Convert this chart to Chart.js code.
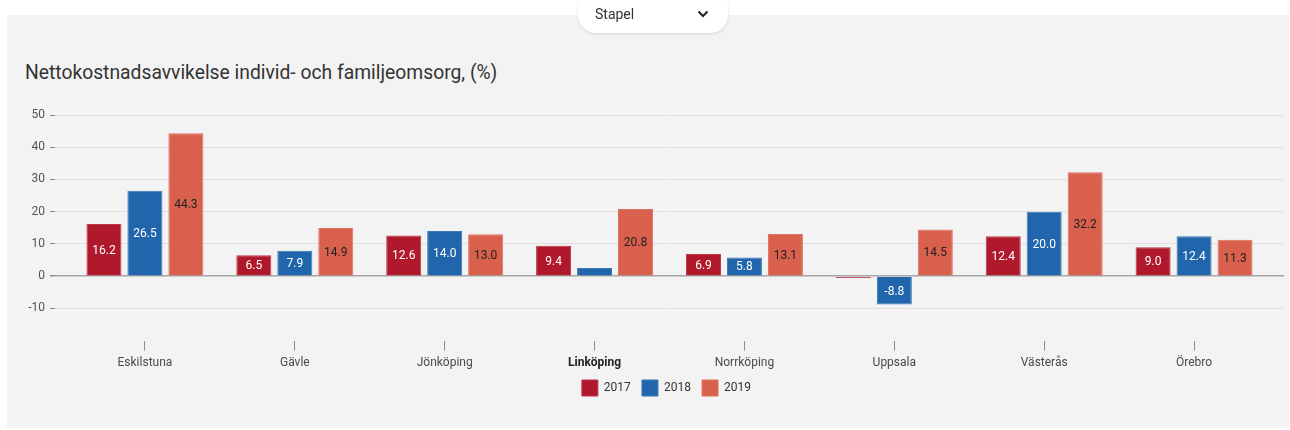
<!DOCTYPE html>
<html lang="sv">
<head>
<meta charset="utf-8">
<title>Nettokostnadsavvikelse</title>
<script src="https://cdn.jsdelivr.net/npm/chart.js@4/dist/chart.umd.min.js"></script>
<style>
  html, body { margin: 0; padding: 0; background: #fff; width: 1290px; height: 430px; overflow: hidden; font-family: Roboto, sans-serif; }
  .panel { position: absolute; left: 7px; top: 15px; width: 1282px; height: 413px; background: #f3f3f3; }
  .title { position: absolute; left: 25px; top: 60px; font-size: 19.3px; line-height: 26px; color: #333; }
  .select { position: absolute; left: 578px; top: -12px; width: 150px; height: 45px; background: #fff; border-radius: 18px;
            box-shadow: 0 1px 3px rgba(0,0,0,0.12); z-index: 3; }
  .select span { position: absolute; left: 17px; top: 18px; font-size: 14px; color: #333; }
  .select svg { position: absolute; left: 119px; top: 22px; }
  canvas { position: absolute; left: 0; top: 0; z-index: 2; }
</style>
</head>
<body>
<div class="panel"></div>
<div class="select"><span>Stapel</span>
  <svg width="12" height="8" viewBox="0 0 12 8"><polyline points="1.5,1.5 6,6 10.5,1.5" fill="none" stroke="#222" stroke-width="2"/></svg>
</div>
<div class="title">Nettokostnadsavvikelse individ- och familjeomsorg, (%)</div>
<canvas id="chart" width="1290" height="430"></canvas>
<script>
// Data
const categories = ['Eskilstuna', 'Gävle', 'Jönköping', 'Linköping', 'Norrköping', 'Uppsala', 'Västerås', 'Örebro'];
const years = ['2017', '2018', '2019'];
const values2017 = [16.2, 6.5, 12.6, 9.4, 6.9, -0.6, 12.4, 9.0];
const values2018 = [26.5, 7.9, 14.0, 2.5, 5.8, -8.8, 20.0, 12.4];
const values2019 = [44.3, 14.9, 13.0, 20.8, 13.1, 14.5, 32.2, 11.3];
const yTicks = [-20, -10, 0, 10, 20, 30, 40, 50];
const selected = 'Linköping';

const colors = ['#b0192c', '#2166ac', '#d9604c'];
const borders = ['#bb3646', '#3a78b6', '#df7260'];
const labelColors = ['#fff', '#fff', '#222'];

const selectedIndex = categories.indexOf(selected);
const series = [values2017, values2018, values2019];

// bar value labels, drawn in the middle of each bar
const barLabels = {
    id: 'barLabels',
    afterDatasetsDraw(chart) {
        const ctx = chart.ctx;
        ctx.save();
        ctx.font = '12px Roboto';
        ctx.textAlign = 'center';
        ctx.textBaseline = 'middle';
        chart.data.datasets.forEach((ds, di) => {
            const meta = chart.getDatasetMeta(di);
            meta.data.forEach((bar, i) => {
                const { x, y, base } = bar.getProps(['x', 'y', 'base'], true);
                if (Math.abs(base - y) < 16) return; // too small for a label
                ctx.fillStyle = labelColors[di];
                ctx.fillText(series[di][i].toFixed(1), x, (y + base) / 2 + 1);
            });
        });
        ctx.restore();
    }
};

Chart.defaults.font.family = 'Roboto, sans-serif';

new Chart(document.getElementById('chart'), {
    type: 'bar',
    data: {
        datasets: years.map((year, di) => ({
            label: year,
            data: series[di].map((v, i) => ({ x: i, y: v })),
            backgroundColor: colors[di],
            borderColor: borders[di],
            borderWidth: 1,
            categoryPercentage: 0.82,
            barPercentage: 0.855
        }))
    },
    options: {
        responsive: false,
        animation: false,
        devicePixelRatio: 1,
        layout: { padding: { top: 115, right: 6, bottom: 24, left: 0 } },
        scales: {
            x: {
                type: 'linear',
                offset: false,
                min: -0.6,
                max: 7.6,
                afterBuildTicks: (scale) => { scale.ticks = categories.map((c, i) => ({ value: i })); },
                border: { display: false },
                grid: { offset: false, drawOnChartArea: false, tickLength: 10, tickColor: '#8a8a8a', lineWidth: 1 },
                ticks: {
                    padding: 5,
                    autoSkip: false,
                    maxRotation: 0,
                    callback: (value) => categories[Math.round(value)],
                    color: (ctx) => ctx.index === selectedIndex ? '#222' : '#4a4a4a',
                    font: (ctx) => ({ size: 12, weight: ctx.index === selectedIndex ? 'bold' : 'normal' })
                }
            },
            y: {
                min: yTicks[0],
                max: yTicks[yTicks.length - 1],
                afterBuildTicks: (scale) => { scale.ticks = yTicks.map(v => ({ value: v })); },
                afterFit: (scale) => { scale.width = 55; },
                border: { display: false },
                grid: {
                    tickLength: 5,
                    color: (ctx) => ctx.tick.value === yTicks[0] ? 'rgba(0,0,0,0)' : (ctx.tick.value === 0 ? '#a6a6a6' : '#e0e0e0'),
                    lineWidth: (ctx) => ctx.tick.value === 0 ? 1.5 : 1,
                    tickColor: (ctx) => ctx.tick.value === yTicks[0] ? 'rgba(0,0,0,0)' : '#8a8a8a'
                },
                ticks: {
                    padding: 5,
                    color: '#555',
                    font: { size: 12 },
                    callback: (value) => value === yTicks[0] ? '' : value
                }
            }
        },
        plugins: {
            legend: {
                position: 'bottom',
                fullSize: false,
                labels: {
                    boxWidth: 16, boxHeight: 16, padding: 5, color: '#333', font: { size: 12 },
                    // a little extra room after each label, the padding is kept small vertically
                    generateLabels: (chart) => Chart.defaults.plugins.legend.labels.generateLabels(chart)
                        .map(item => ({ ...item, text: item.text + '\u2002' }))
                }
            },
            tooltip: { enabled: false }
        }
    },
    plugins: [barLabels]
});
</script>
</body>
</html>
